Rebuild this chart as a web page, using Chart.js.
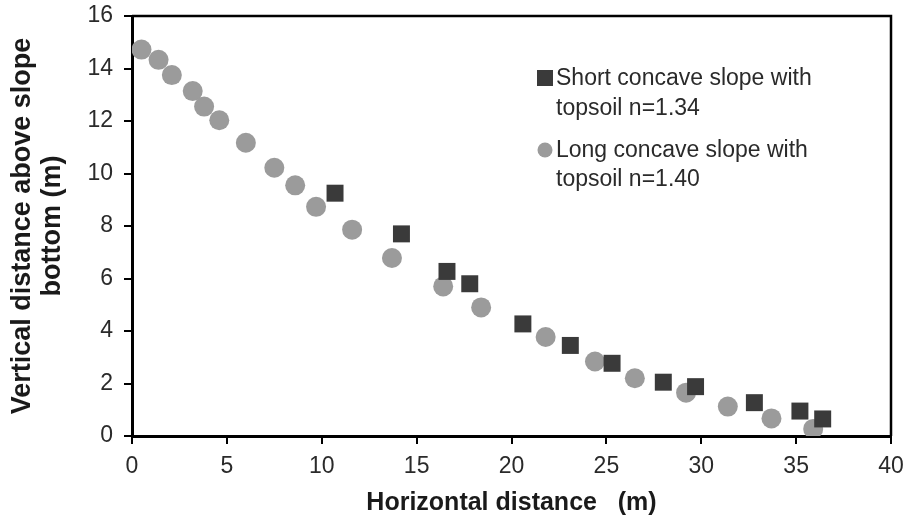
<!DOCTYPE html>
<html>
<head>
<meta charset="utf-8">
<script src="https://cdn.jsdelivr.net/npm/chart.js@4"></script>
<style>
  html, body { margin: 0; padding: 0; background: #fff; }
  #wrap { width: 907px; height: 522px; }
</style>
</head>
<body>
<div id="wrap"><canvas id="slope-chart"></canvas></div>
<script>
// Short concave slope with topsoil n=1.34
var shortX = [10.7, 14.2, 16.6, 17.8, 20.6, 23.1, 25.3, 28.0, 29.7, 32.8, 35.2, 36.4];
var shortY = [9.25, 7.7, 6.27, 5.8, 4.27, 3.45, 2.77, 2.05, 1.88, 1.27, 0.95, 0.65];

// Long concave slope with topsoil n=1.40
var longX = [0.5, 1.4, 2.1, 3.2, 3.8, 4.6, 6.0, 7.5, 8.6, 9.7, 11.6, 13.7, 16.4,
             18.4, 21.8, 24.4, 26.5, 29.2, 31.4, 33.7, 35.9];
var longY = [14.72, 14.33, 13.75, 13.14, 12.55, 12.03, 11.17, 10.22, 9.55, 8.73, 7.86, 6.78, 5.7,
             4.9, 3.77, 2.84, 2.2, 1.65, 1.12, 0.67, 0.27];

var shortLabel = ["Short concave slope with", "topsoil n=1.34"];
var longLabel = ["Long concave slope with", "topsoil n=1.40"];

var FONT = '"Liberation Sans", Arial, sans-serif';

function toPoints(xs, ys) {
    return xs.map(function (x, i) { return {x: x, y: ys[i]}; });
}

// legend drawn inside the plot + top/right frame lines
var insideLegend = {
    id: 'insideLegend',
    afterDraw: function (chart) {
        var ctx = chart.ctx;
        var a = chart.chartArea;
        ctx.save();
        ctx.strokeStyle = '#000';
        ctx.lineWidth = 2.5;
        ctx.beginPath();
        ctx.moveTo(a.left, a.top);
        ctx.lineTo(a.right, a.top);
        ctx.lineTo(a.right, a.bottom);
        ctx.stroke();

        ctx.font = '23px ' + FONT;
        ctx.textBaseline = 'middle';
        ctx.textAlign = 'left';
        var ds = chart.data.datasets;
        // square entry
        ctx.fillStyle = ds[0].backgroundColor;
        ctx.fillRect(537, 70, 16, 16);
        ctx.fillStyle = '#2a2a2a';
        ctx.fillText(ds[0].label[0], 556, 79);
        ctx.fillText(ds[0].label[1], 556, 109);
        // circle entry
        ctx.fillStyle = ds[1].backgroundColor;
        ctx.beginPath();
        ctx.arc(545, 150, 7.5, 0, Math.PI * 2);
        ctx.fill();
        ctx.fillStyle = '#2a2a2a';
        ctx.fillText(ds[1].label[0], 556, 151);
        ctx.fillText(ds[1].label[1], 556, 180);
        ctx.restore();
    }
};

new Chart(document.getElementById("slope-chart"), {
    type: 'scatter',
    data: {
        datasets: [
            {
                label: shortLabel,
                data: toPoints(shortX, shortY),
                pointStyle: 'rect',
                pointRadius: 12,
                pointHoverRadius: 12,
                backgroundColor: '#3a3a3a',
                borderColor: '#3a3a3a',
                borderWidth: 0
            },
            {
                label: longLabel,
                data: toPoints(longX, longY),
                pointStyle: 'circle',
                pointRadius: 10,
                pointHoverRadius: 10,
                backgroundColor: '#9b9b9b',
                borderColor: '#9b9b9b',
                borderWidth: 0
            }
        ]
    },
    options: {
        responsive: true,
        maintainAspectRatio: false,
        animation: false,
        layout: {
            padding: {left: 0, right: 16, top: 16, bottom: 0}
        },
        plugins: {
            legend: {display: false},
            tooltip: {enabled: false}
        },
        scales: {
            x: {
                min: 0,
                max: 40,
                afterFit: function (scale) {
                    scale.height = 86;
                    scale.paddingLeft = 0;
                    scale.paddingRight = 0;
                },
                ticks: {
                    stepSize: 5,
                    padding: 9,
                    color: '#2a2a2a',
                    font: {family: FONT, size: 23}
                },
                grid: {
                    drawOnChartArea: false,
                    drawTicks: true,
                    tickLength: 8,
                    color: '#000',
                    lineWidth: 2
                },
                border: {display: true, color: '#000', width: 3},
                title: {
                    display: true,
                    text: 'Horizontal distance   (m)',
                    color: '#1a1a1a',
                    padding: {top: 0, bottom: 4},
                    font: {family: FONT, size: 25, weight: 'bold', lineHeight: 1.2}
                }
            },
            y: {
                min: 0,
                max: 16,
                afterFit: function (scale) {
                    scale.width = 132;
                    scale.paddingTop = 0;
                    scale.paddingBottom = 0;
                },
                ticks: {
                    stepSize: 2,
                    padding: 11,
                    color: '#2a2a2a',
                    font: {family: FONT, size: 23}
                },
                grid: {
                    drawOnChartArea: false,
                    drawTicks: true,
                    tickLength: 8,
                    color: '#000',
                    lineWidth: 2
                },
                border: {display: true, color: '#000', width: 3},
                title: {
                    display: true,
                    text: ['Vertical distance above slope', 'bottom (m)'],
                    color: '#1a1a1a',
                    padding: {top: 8, bottom: 0},
                    font: {family: FONT, size: 27, weight: 'bold', lineHeight: 1.11}
                }
            }
        }
    },
    plugins: [insideLegend]
});
</script>
</body>
</html>
